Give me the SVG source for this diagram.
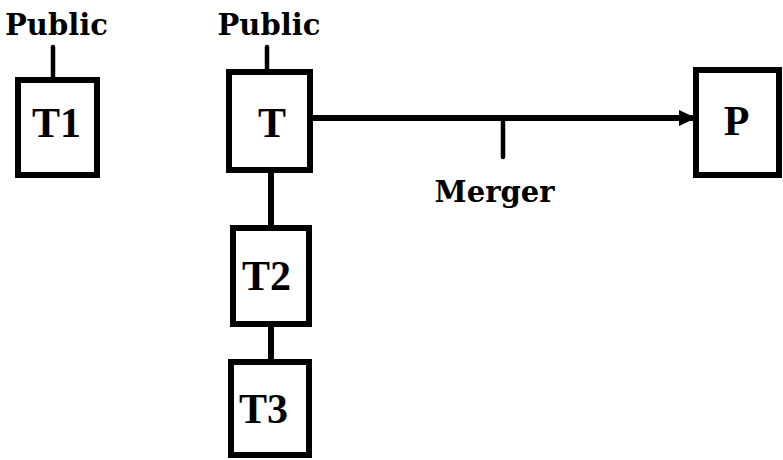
<svg xmlns="http://www.w3.org/2000/svg" width="783" height="460" viewBox="0 0 783 460">
<style>
.box{fill:#fff;stroke:#000;stroke-width:6}
.lbl{font-family:"Liberation Serif","Times New Roman",serif;font-weight:bold;font-size:42px;text-anchor:middle;fill:#000}
.cap{font-family:"DejaVu Serif",serif;font-weight:bold;font-size:29px;text-anchor:middle;fill:#000}
.ln{stroke:#000;stroke-width:6;fill:none}
.tk{stroke:#000;stroke-width:4.5;fill:none;stroke-linecap:round}
</style>
<defs>
<marker id="arr" markerUnits="userSpaceOnUse" markerWidth="18" markerHeight="18" refX="16" refY="9" orient="auto" viewBox="0 0 18 18">
<path d="M0,1 L17,9 L0,17 Z" fill="#000"/>
</marker>
</defs>
<g id="connectors">
<line class="tk" x1="53" y1="47" x2="53" y2="77"/>
<line class="tk" x1="267" y1="47" x2="267" y2="69"/>
<line class="ln" x1="313" y1="118" x2="695" y2="118" marker-end="url(#arr)"/>
<line class="tk" x1="503" y1="118" x2="503" y2="157"/>
<line class="ln" x1="271" y1="173" x2="271" y2="225"/>
<line class="ln" x1="271" y1="327" x2="271" y2="359"/>
</g>
<g id="labels">
<text class="cap" x="56.5" y="35">Public</text>
<text class="cap" x="269" y="35">Public</text>
<text class="cap" x="494.5" y="202" font-size="27">Merger</text>
</g>
<g id="T1"><rect class="box" x="18" y="80" width="79" height="95"/><text class="lbl" x="56.5" y="137">T1</text></g>
<g id="T"><rect class="box" x="229" y="72" width="81" height="98"/><text class="lbl" x="272" y="137">T</text></g>
<g id="T2"><rect class="box" x="233" y="228" width="76" height="96"/><text class="lbl" x="266.5" y="290">T2</text></g>
<g id="T3"><rect class="box" x="231" y="362" width="78" height="93"/><text class="lbl" x="263.5" y="423">T3</text></g>
<g id="P"><rect class="box" x="696" y="70" width="83" height="105"/><text class="lbl" x="736.5" y="135">P</text></g>
</svg>
